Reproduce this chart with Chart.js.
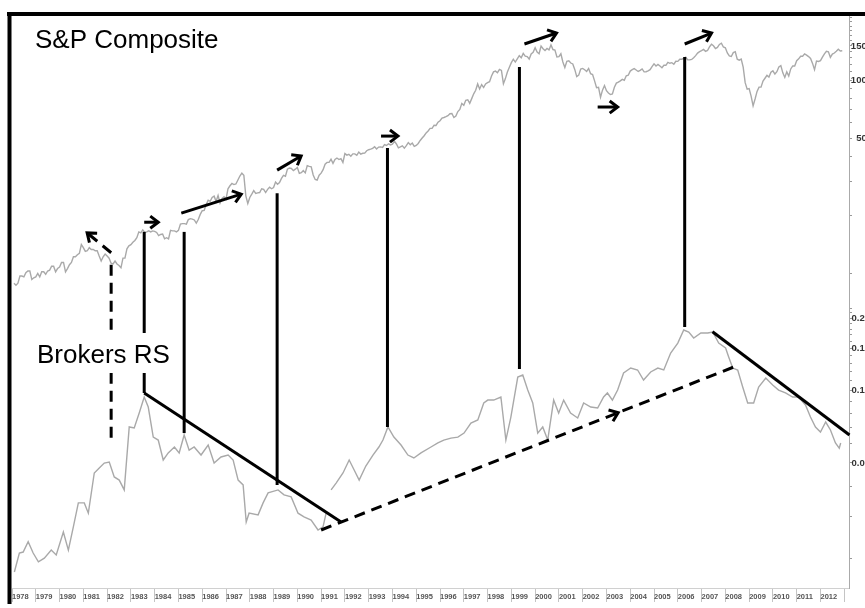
<!DOCTYPE html>
<html>
<head>
<meta charset="utf-8">
<script src="https://cdn.jsdelivr.net/npm/chart.js@4.4.1/dist/chart.umd.min.js"></script>
<style>
  html, body { margin: 0; padding: 0; background: #fff; }
</style>
</head>
<body>
<canvas id="myChart" width="865" height="608"></canvas>
<script>
// S&P Composite, monthly closes Jan 1978 .. Nov 2012
const spxMonthly = [
  89, 87, 89, 97, 97, 96, 101, 103, 103, 93, 95, 96,
  100, 96, 102, 102, 99, 103, 104, 109, 109, 102, 106, 108,
  114, 114, 102, 106, 111, 114, 122, 122, 125, 127, 141, 136,
  130, 131, 136, 133, 133, 131, 131, 123, 116, 122, 126, 123,
  120, 113, 112, 116, 112, 110, 107, 120, 120, 134, 139, 141,
  145, 148, 153, 164, 162, 168, 163, 164, 166, 164, 166, 165,
  163, 157, 159, 160, 151, 153, 151, 167, 166, 166, 164, 167,
  180, 181, 181, 180, 190, 192, 191, 189, 182, 190, 202, 211,
  212, 227, 239, 236, 247, 251, 236, 253, 231, 244, 249, 242,
  274, 284, 292, 288, 290, 304, 319, 330, 322, 252, 230, 247,
  257, 268, 259, 261, 262, 274, 272, 262, 272, 279, 274, 278,
  297, 289, 295, 310, 321, 318, 346, 351, 349, 340, 346, 353,
  329, 332, 340, 331, 361, 358, 356, 323, 306, 304, 322, 330,
  344, 367, 375, 375, 390, 371, 388, 395, 388, 392, 375, 417,
  409, 413, 404, 415, 415, 408, 424, 414, 418, 419, 431, 436,
  439, 443, 452, 440, 450, 451, 448, 464, 459, 468, 462, 466,
  482, 467, 446, 451, 457, 444, 458, 475, 463, 472, 454, 459,
  470, 487, 501, 515, 533, 545, 562, 562, 584, 582, 605, 616,
  636, 640, 646, 654, 669, 671, 640, 652, 687, 705, 757, 741,
  786, 791, 757, 801, 848, 885, 954, 899, 947, 915, 955, 970,
  980, 1049, 1102, 1112, 1091, 1134, 1121, 957, 1017, 1099, 1164, 1229,
  1280, 1238, 1286, 1335, 1302, 1373, 1329, 1320, 1283, 1363, 1389, 1469,
  1394, 1366, 1499, 1452, 1421, 1455, 1431, 1518, 1437, 1429, 1315, 1320,
  1366, 1240, 1160, 1249, 1256, 1224, 1211, 1134, 1041, 1060, 1139, 1148,
  1130, 1107, 1147, 1077, 1067, 990, 912, 916, 815, 886, 936, 880,
  856, 841, 848, 917, 964, 975, 990, 1008, 996, 1051, 1058, 1112,
  1131, 1145, 1126, 1107, 1121, 1141, 1102, 1104, 1115, 1130, 1174, 1212,
  1181, 1204, 1181, 1157, 1192, 1191, 1234, 1220, 1229, 1207, 1249, 1248,
  1280, 1281, 1295, 1311, 1270, 1270, 1277, 1304, 1336, 1378, 1401, 1418,
  1438, 1407, 1421, 1482, 1531, 1503, 1455, 1474, 1527, 1549, 1481, 1468,
  1379, 1331, 1323, 1386, 1400, 1280, 1267, 1283, 1166, 969, 896, 903,
  826, 735, 798, 873, 919, 919, 987, 1021, 1057, 1036, 1096, 1115,
  1074, 1104, 1169, 1187, 1089, 1031, 1102, 1049, 1141, 1183, 1181, 1258,
  1286, 1327, 1326, 1364, 1345, 1321, 1292, 1219, 1131, 1253, 1247, 1258,
  1312, 1366, 1408, 1398, 1310, 1362, 1379, 1407, 1441, 1412, 1416
];
const spxStartYear = 1978;

// Brokers relative strength (null = break in the series)
const rsYears = [
  1978.10, 1978.31, 1978.47, 1978.68, 1978.89, 1979.11, 1979.36, 1979.65, 1979.86,
  1980.16, 1980.37, 1980.58, 1980.79, 1981.04, 1981.21, 1981.46, 1981.67, 1981.88,
  1982.09, 1982.30, 1982.51, 1982.72, 1982.93, 1983.14, 1983.35, 1983.56, 1983.73,
  1983.94, 1984.15, 1984.36, 1984.57, 1984.83, 1985.03, 1985.24, 1985.45, 1985.66,
  1985.95, 1986.25, 1986.50, 1986.79, 1987.09, 1987.30, 1987.51, 1987.72, 1987.85,
  1987.97, 1988.35, 1988.56, 1988.77, 1989.19, 1989.44, 1989.74, 1990.03, 1990.28,
  1990.58, 1990.87, 1991.08, 1991.21, 1991.30,
  1991.42, 1991.63, 1991.92, 1992.18, 1992.39, 1992.60, 1992.88, 1993.18, 1993.43,
  1993.60, 1993.81, 1994.06, 1994.36, 1994.65, 1994.90, 1995.20, 1995.62, 1995.91,
  1996.16, 1996.46, 1996.75, 1997.01, 1997.30, 1997.59, 1997.84, 1998.01, 1998.26,
  1998.56, 1998.77, 1998.98, 1999.27, 1999.48, 1999.69, 1999.90, 2000.11, 2000.32,
  2000.53, 2000.78, 2000.99, 2001.20, 2001.49, 2001.79, 2002.04, 2002.34, 2002.63,
  2002.88, 2003.04, 2003.25, 2003.47, 2003.72, 2004.02, 2004.31, 2004.56, 2004.86,
  2005.16, 2005.41, 2005.70, 2006.00, 2006.25, 2006.46, 2006.67, 2006.97, 2007.26,
  2007.47, 2007.72, 2008.01, 2008.14, 2008.31, 2008.52, 2008.73, 2008.94, 2009.19,
  2009.40, 2009.70, 2009.99, 2010.24, 2010.53, 2010.83, 2011.08, 2011.37, 2011.58,
  2011.79, 2012.00, 2012.22, 2012.42, 2012.63, 2012.79, 2012.85
];
const rsValues = [
  0.0176, 0.0211, 0.0213, 0.0235, 0.0211, 0.0194, 0.0201, 0.0217, 0.0207,
  0.0258, 0.0217, 0.0271, 0.0341, 0.0341, 0.0309, 0.0454, 0.0476, 0.0499,
  0.0504, 0.0437, 0.0424, 0.0386, 0.0705, 0.0698, 0.0806, 0.0939, 0.0853,
  0.0640, 0.0622, 0.0514, 0.0550, 0.0582, 0.0550, 0.0653, 0.0565, 0.0582,
  0.0539, 0.0593, 0.0499, 0.0529, 0.0539, 0.0514, 0.0424, 0.0405, 0.0284,
  0.0309, 0.0304, 0.0341, 0.0375, 0.0386, 0.0368, 0.0361, 0.0309, 0.0298,
  0.0289, 0.0263, 0.0271, 0.0309, null,
  0.0386, 0.0412, 0.0454, 0.0514, 0.0467, 0.0424, 0.0485, 0.0539, 0.0582,
  0.0622, 0.0705, 0.0640, 0.0593, 0.0539, 0.0524, 0.0550, 0.0582, 0.0605,
  0.0622, 0.0634, 0.0640, 0.0665, 0.0732, 0.0754, 0.0887, 0.0912, 0.0912,
  0.0939, 0.0622, 0.0775, 0.1137, 0.1159, 0.1004, 0.0887, 0.0665, 0.0705,
  0.0622, 0.0912, 0.0806, 0.0912, 0.0806, 0.0768, 0.0887, 0.0853, 0.0845,
  0.0939, 0.0976, 0.0912, 0.1004, 0.1182, 0.1239, 0.1216, 0.1105, 0.1193,
  0.1239, 0.1216, 0.1431, 0.1574, 0.1783, 0.1749, 0.1652, 0.1733, 0.1733,
  0.1749, 0.1574, 0.1501, 0.1377, 0.1239, 0.1216, 0.1033, 0.0887, 0.0887,
  0.1033, 0.1126, 0.1053, 0.1004, 0.0976, 0.0939, 0.0939, 0.0870, 0.0775,
  0.0705, 0.0672, 0.0739, 0.0685, 0.0605, 0.0576, 0.0605
];

// axis ticks
const yearTicks = [];
for (let y = 1978; y <= 2013; y++) yearTicks.push(y);
const spxTicks = [100, 200, 300, 400, 500, 600, 700, 800, 900, 1000, 1100, 1200,
  1300, 1400, 1500, 1600, 1700, 1800, 1900, 2000, 2100];
const spxTickLabels = [500, 1000, 1500];
const rsTicks = [0.02, 0.03, 0.04, 0.05, 0.06, 0.07, 0.08, 0.09, 0.10, 0.11, 0.12,
  0.13, 0.14, 0.15, 0.16, 0.17, 0.18, 0.19, 0.20, 0.21, 0.22];
const rsTickLabels = [0.05, 0.10, 0.15, 0.20];

// annotations, in data units
// vertical links from an S&P point down to a Brokers RS point
const links = [
  { year: 1982.17, spx: 111, rs: 0.061, dashed: true },
  { year: 1983.56, spx: 164, rs: 0.0976 },
  { year: 1985.24, spx: 164, rs: 0.0665 },
  { year: 1989.15, spx: 260, rs: 0.0405 },
  { year: 1993.79, spx: 445, rs: 0.0705 },
  { year: 1999.34, spx: 1167, rs: 0.1228 },
  { year: 2006.29, spx: 1315, rs: 0.1835 }
];
// arrows on the S&P pane: [fromYear, fromValue, toYear, toValue, dashed]
const spxArrows = [
  [1982.17, 128, 1981.16, 162, true],
  [1983.56, 184, 1984.15, 184],
  [1985.12, 205, 1987.64, 257],
  [1989.15, 342, 1990.16, 405],
  [1993.52, 513, 1994.23, 513],
  [1999.55, 1535, 2000.90, 1749],
  [2002.63, 725, 2003.47, 725],
  [2006.29, 1535, 2007.42, 1749]
];
// trend lines on the RS pane: [fromYear, fromValue, toYear, toValue, dashed, arrowAt]
const rsTrends = [
  [1983.56, 0.0976, 1991.84, 0.0284],
  [2007.46, 0.1754, 2013.22, 0.0653],
  [1991.0, 0.0263, 2008.35, 0.1251, true, 0.72]
];

const spxPoints = spxMonthly.map((v, i) => ({ x: spxStartYear + (i + 1) / 12, y: v }));
const rsPoints = rsYears.map((yr, i) => ({ x: yr, y: rsValues[i] }));

function arrowHead(ctx, x1, y1, x2, y2) {
  const a = Math.atan2(y2 - y1, x2 - x1);
  const len = 10, spread = 0.65;
  ctx.beginPath();
  ctx.moveTo(x2 - len * Math.cos(a - spread), y2 - len * Math.sin(a - spread));
  ctx.lineTo(x2, y2);
  ctx.lineTo(x2 - len * Math.cos(a + spread), y2 - len * Math.sin(a + spread));
  ctx.setLineDash([]);
  ctx.stroke();
}

function segment(ctx, x1, y1, x2, y2, dashed) {
  ctx.beginPath();
  ctx.setLineDash(dashed ? [11, 7] : []);
  ctx.moveTo(x1, y1);
  ctx.lineTo(x2, y2);
  ctx.stroke();
}

const annotate = {
  id: "annotate",
  afterLayout(chart) {
    // right-aligned value labels run past the edge of the picture
    const t = chart.scales.yTop, b = chart.scales.yBot;
    t.right = t.left + 23;
    b.right = b.left + 21;
  },
  afterDatasetsDraw(chart) {
    const { ctx, scales } = chart;
    const x = scales.x, yTop = scales.yTop, yBot = scales.yBot;
    ctx.save();
    ctx.strokeStyle = "#000";
    ctx.lineWidth = 3;
    ctx.lineJoin = "miter";

    links.forEach(function (l) {
      const px = x.getPixelForValue(l.year);
      segment(ctx, px, yTop.getPixelForValue(l.spx), px, yBot.getPixelForValue(l.rs), l.dashed);
    });

    spxArrows.forEach(function (a) {
      const x1 = x.getPixelForValue(a[0]), y1 = yTop.getPixelForValue(a[1]);
      const x2 = x.getPixelForValue(a[2]), y2 = yTop.getPixelForValue(a[3]);
      segment(ctx, x1, y1, x2, y2, a[4]);
      arrowHead(ctx, x1, y1, x2, y2);
    });

    rsTrends.forEach(function (t) {
      const x1 = x.getPixelForValue(t[0]), y1 = yBot.getPixelForValue(t[1]);
      const x2 = x.getPixelForValue(t[2]), y2 = yBot.getPixelForValue(t[3]);
      segment(ctx, x1, y1, x2, y2, t[4]);
      if (t[5]) {
        arrowHead(ctx, x1, y1, x1 + (x2 - x1) * t[5], y1 + (y2 - y1) * t[5]);
      }
    });

    // pane titles
    ctx.setLineDash([]);
    ctx.font = "26px 'Liberation Sans', Arial, sans-serif";
    ctx.textBaseline = "alphabetic";
    ctx.fillStyle = "#fff";
    ctx.fillRect(30, 333, 150, 40);
    ctx.fillStyle = "#000";
    ctx.fillText("S&P Composite", 35, 48);
    ctx.fillText("Brokers RS", 37, 363);
    ctx.restore();
  },
  afterDraw(chart) {
    const ctx = chart.ctx;
    ctx.save();
    ctx.strokeStyle = "#000";
    ctx.lineWidth = 4;
    ctx.beginPath();
    ctx.moveTo(7, 14);
    ctx.lineTo(865, 14);
    ctx.moveTo(9.5, 12);
    ctx.lineTo(9.5, 604);
    ctx.stroke();
    ctx.restore();
  }
};

const axisFont = { family: "'Liberation Sans Narrow', 'Liberation Sans', Arial, sans-serif", size: 9.5, weight: "bold" };

const ctx = document.getElementById("myChart");
const chart = new Chart(ctx, {
  type: "line",
  data: {
    datasets: [
      {
        label: "S&P Composite",
        data: spxPoints,
        yAxisID: "yTop",
        borderColor: "#a9a9a9",
        borderWidth: 1.4,
        pointRadius: 0,
      },
      {
        label: "Brokers RS",
        data: rsPoints,
        yAxisID: "yBot",
        borderColor: "#a9a9a9",
        borderWidth: 1.4,
        pointRadius: 0,
      },
    ],
  },
  options: {
    responsive: false,
    animation: false,
    devicePixelRatio: 1,
    layout: { padding: { left: 12, top: 16, right: 0, bottom: 2 } },
    plugins: { legend: { display: false }, tooltip: { enabled: false } },
    scales: {
      x: {
        type: "linear",
        position: "bottom",
        min: 1978,
        max: 2013.2,
        afterBuildTicks: (s) => { s.ticks = yearTicks.map((v) => ({ value: v })); },
        afterFit: (s) => { s.height = 18; },
        grid: { drawOnChartArea: false, drawTicks: true, tickLength: 14, color: "#c4c4c4" },
        border: { color: "#d0d0d0", dash: [2, 2] },
        ticks: {
          align: "start",
          padding: -10,
          autoSkip: false,
          maxRotation: 0,
          color: "#555",
          font: { family: "'Liberation Sans Narrow', 'Liberation Sans', Arial, sans-serif", size: 7.5, weight: "bold" },
          callback: (v) => (v <= 2012 ? String(v) : ""),
        },
      },
      yTop: {
        type: "logarithmic",
        position: "right",
        stack: "panes",
        stackWeight: 1,
        min: 71.2,
        max: 2142,
        afterBuildTicks: (s) => { s.ticks = spxTicks.map((v) => ({ value: v })); },
        afterFit: (s) => { s.width = 16; },
        grid: { drawOnChartArea: false, drawTicks: true, tickLength: 3, color: "#999" },
        border: { color: "#aaa" },
        ticks: {
          autoSkip: false,
          crossAlign: "far",
          padding: 1,
          color: "#333",
          font: axisFont,
          callback: (v) => (spxTickLabels.includes(v) ? String(v) : ""),
        },
      },
      yBot: {
        type: "logarithmic",
        position: "right",
        stack: "panes",
        stackWeight: 1,
        min: 0.0151,
        max: 0.2331,
        afterBuildTicks: (s) => { s.ticks = rsTicks.map((v) => ({ value: v })); },
        afterFit: (s) => { s.width = 16; },
        grid: { drawOnChartArea: false, drawTicks: true, tickLength: 3, color: "#999" },
        border: { color: "#aaa" },
        ticks: {
          autoSkip: false,
          crossAlign: "far",
          padding: 1,
          color: "#333",
          font: axisFont,
          callback: (v) => (rsTickLabels.some((t) => Math.abs(t - v) < 1e-9) ? v.toFixed(2) : ""),
        },
      },
    },
  },
  plugins: [annotate],
});
</script>
</body>
</html>
